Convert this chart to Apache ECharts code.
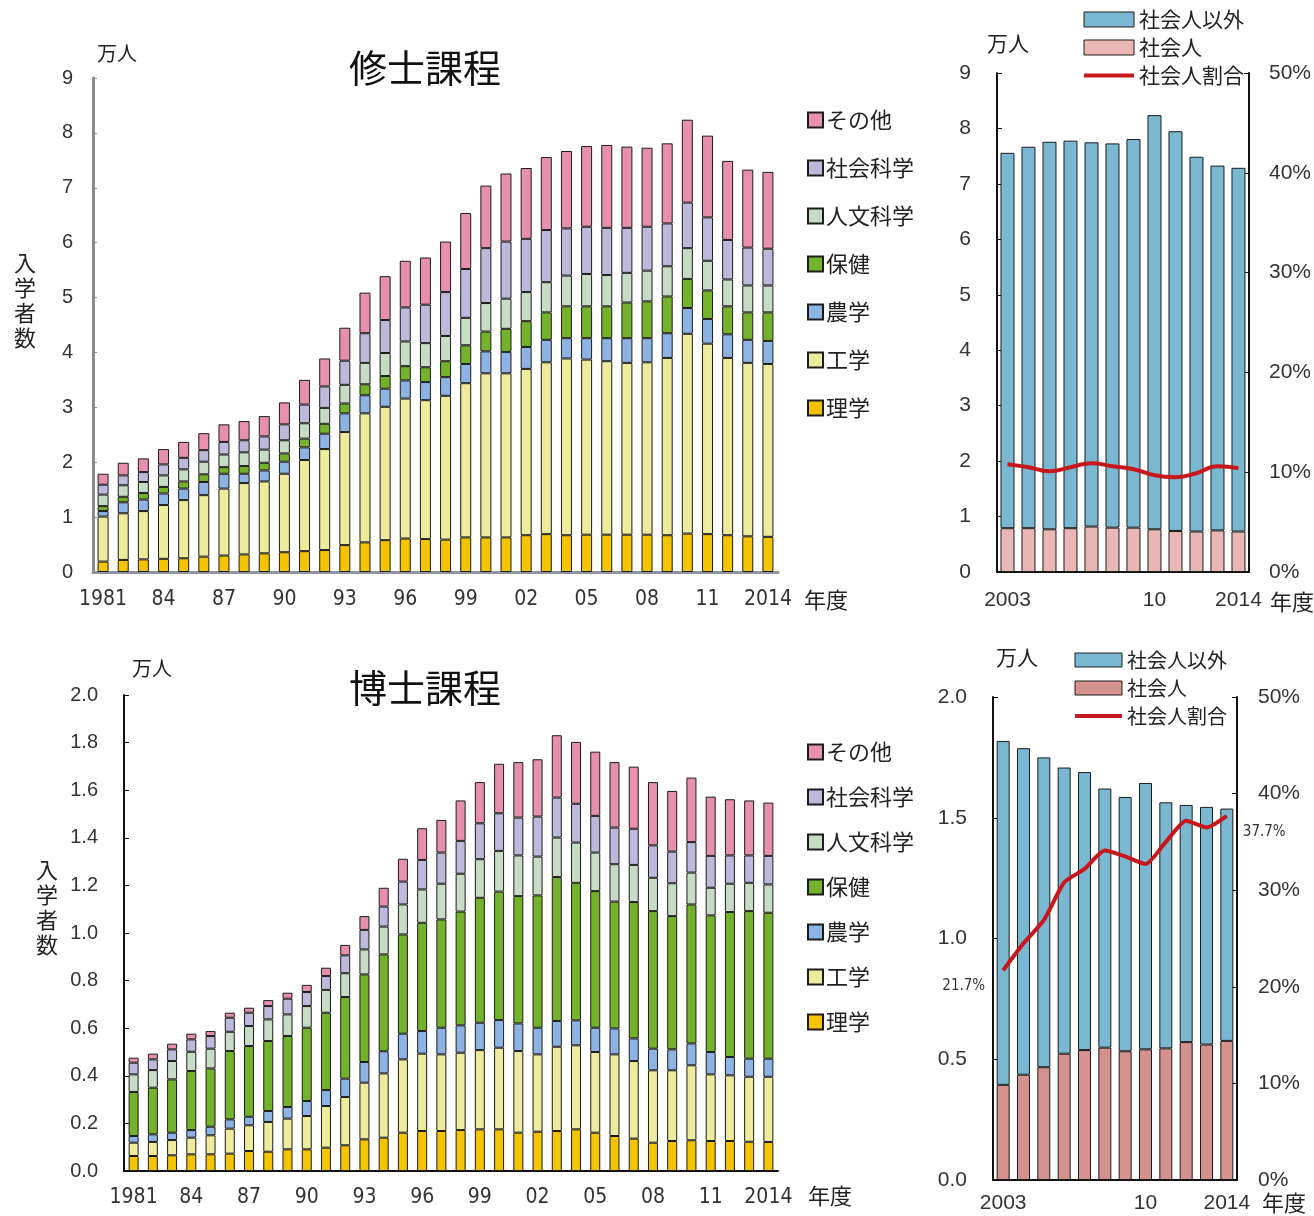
<!DOCTYPE html>
<html>
<head>
<meta charset="utf-8">
<script src="https://cdn.jsdelivr.net/npm/echarts@6/dist/echarts.min.js"></script>
<style>
  html, body { margin: 0; padding: 0; background: #fff; }
  #chart { width: 1314px; height: 1216px; }
</style>
</head>
<body>
<div id="chart"></div>
<script>
// ---- categories ----
const years = ['1981','82','83','84','85','86','87','88','89','90','91','92','93','94','95','96','97','98','99',
  '00','01','02','03','04','05','06','07','08','09','10','11','12','13','2014'];
const recentYears = ['2003','04','05','06','07','08','09','10','11','12','13','2014'];

// ---- 修士課程 入学者数 (万人) by field ----
const mScience = [0.19,0.22,0.23,0.24,0.25,0.28,0.30,0.32,0.34,0.36,0.38,0.40,0.49,0.54,0.58,0.61,0.60,0.59,0.63,0.63,0.63,0.67,0.69,0.67,0.68,0.68,0.68,0.68,0.67,0.70,0.69,0.67,0.65,0.64];
const mEng     = [0.82,0.85,0.88,0.98,1.06,1.12,1.22,1.30,1.31,1.43,1.66,1.84,2.06,2.35,2.43,2.55,2.53,2.62,2.81,2.99,2.99,3.03,3.13,3.22,3.19,3.16,3.13,3.14,3.23,3.64,3.47,3.23,3.16,3.15];
const mAgri    = [0.10,0.20,0.21,0.21,0.21,0.24,0.27,0.17,0.20,0.22,0.23,0.28,0.34,0.33,0.33,0.33,0.33,0.34,0.35,0.40,0.39,0.40,0.41,0.37,0.39,0.42,0.45,0.44,0.45,0.47,0.45,0.43,0.42,0.42];
const mHealth  = [0.09,0.10,0.12,0.12,0.13,0.14,0.12,0.14,0.14,0.15,0.16,0.18,0.18,0.20,0.23,0.26,0.27,0.29,0.34,0.36,0.42,0.47,0.50,0.58,0.58,0.58,0.65,0.67,0.67,0.53,0.52,0.51,0.50,0.52];
const mHum     = [0.21,0.21,0.20,0.21,0.22,0.23,0.23,0.25,0.24,0.24,0.28,0.29,0.34,0.39,0.42,0.45,0.44,0.46,0.50,0.52,0.55,0.53,0.55,0.56,0.59,0.57,0.54,0.56,0.55,0.56,0.54,0.49,0.49,0.49];
const mSoc     = [0.18,0.18,0.18,0.20,0.21,0.21,0.23,0.22,0.24,0.29,0.34,0.39,0.44,0.54,0.60,0.62,0.70,0.80,0.89,1.00,1.04,0.97,0.95,0.86,0.86,0.86,0.82,0.80,0.78,0.83,0.79,0.72,0.69,0.67];
const mOther   = [0.20,0.23,0.25,0.28,0.29,0.31,0.32,0.35,0.37,0.40,0.45,0.51,0.60,0.74,0.80,0.85,0.86,0.92,1.02,1.14,1.24,1.29,1.33,1.41,1.47,1.51,1.48,1.44,1.46,1.51,1.49,1.44,1.42,1.40];

// ---- 博士課程 入学者数 (万人) by field ----
const dScience = [0.063,0.063,0.066,0.070,0.070,0.073,0.084,0.081,0.091,0.091,0.098,0.108,0.133,0.140,0.161,0.168,0.168,0.172,0.175,0.175,0.161,0.165,0.168,0.175,0.161,0.147,0.136,0.119,0.126,0.129,0.126,0.126,0.123,0.122];
const dEng     = [0.056,0.059,0.064,0.070,0.080,0.105,0.108,0.125,0.129,0.140,0.175,0.203,0.238,0.270,0.308,0.325,0.322,0.325,0.333,0.343,0.343,0.325,0.354,0.353,0.339,0.343,0.326,0.304,0.297,0.315,0.280,0.276,0.273,0.274];
const dAgri    = [0.028,0.032,0.031,0.032,0.036,0.039,0.036,0.046,0.049,0.063,0.067,0.077,0.087,0.093,0.108,0.095,0.112,0.115,0.115,0.116,0.116,0.112,0.108,0.105,0.102,0.109,0.095,0.091,0.088,0.092,0.094,0.077,0.076,0.076];
const dHealth  = [0.185,0.196,0.224,0.248,0.245,0.287,0.297,0.294,0.298,0.308,0.325,0.343,0.368,0.407,0.417,0.455,0.455,0.478,0.525,0.540,0.535,0.556,0.605,0.578,0.574,0.533,0.573,0.578,0.560,0.584,0.574,0.609,0.620,0.613];
const dHum     = [0.074,0.074,0.077,0.081,0.083,0.081,0.084,0.091,0.091,0.091,0.096,0.100,0.105,0.117,0.126,0.140,0.150,0.159,0.162,0.171,0.171,0.163,0.166,0.169,0.162,0.157,0.156,0.140,0.138,0.134,0.116,0.119,0.119,0.119];
const dSoc     = [0.049,0.045,0.049,0.052,0.053,0.059,0.056,0.056,0.066,0.059,0.058,0.075,0.082,0.084,0.096,0.124,0.131,0.138,0.151,0.158,0.159,0.168,0.168,0.163,0.154,0.154,0.152,0.136,0.133,0.128,0.134,0.119,0.115,0.120];
const dOther   = [0.021,0.024,0.024,0.024,0.021,0.021,0.021,0.025,0.025,0.030,0.035,0.044,0.058,0.079,0.096,0.133,0.137,0.170,0.173,0.208,0.233,0.241,0.262,0.260,0.270,0.275,0.261,0.266,0.255,0.271,0.249,0.236,0.231,0.224];

// ---- 社会人 / 社会人以外 (万人) and 社会人割合 (%) , 2003-2014 ----
const mWorking    = [0.79,0.79,0.77,0.79,0.82,0.80,0.80,0.77,0.74,0.73,0.75,0.73];
const mNonWorking = [6.77,6.88,6.99,6.99,6.93,6.93,7.01,7.47,7.21,6.76,6.58,6.56];
const mRatio      = [10.8,10.5,10.1,10.5,10.9,10.6,10.3,9.7,9.5,9.9,10.6,10.4];
const dWorking    = [0.394,0.436,0.467,0.523,0.538,0.548,0.533,0.541,0.545,0.571,0.561,0.576];
const dNonWorking = [1.424,1.352,1.283,1.185,1.151,1.073,1.053,1.103,1.019,0.982,0.984,0.962];
const dRatio      = [21.7,24.5,26.9,30.8,32.2,34.1,33.5,32.7,35.0,37.2,36.5,37.7];

// ---- field names (bottom of stack first) and colours ----
const fieldNames  = ['理学','工学','農学','保健','人文科学','社会科学','その他'];
const fieldColors = ['#F5C400','#EDEB9C','#8DB3E2','#74B22C','#C6DCC4','#BDB9DB','#E78FAE'];
const masterData  = [mScience, mEng, mAgri, mHealth, mHum, mSoc, mOther];
const doctorData  = [dScience, dEng, dAgri, dHealth, dHum, dSoc, dOther];

const JP = "'Noto Sans CJK JP', 'Noto Sans', sans-serif";
const NUM = "'Liberation Sans', Arial, sans-serif";
const NARROW = "'Liberation Sans Narrow', 'Arial Narrow', 'DejaVu Sans Condensed', 'Liberation Sans', sans-serif";
const RED = '#C8161D';

const chart = echarts.init(document.getElementById('chart'), null, { renderer: 'canvas' });

function fieldSeries(dataSets, axisIdx, stackName, barWidth) {
  return fieldNames.map((name, i) => ({
    type: 'bar', name, stack: stackName,
    xAxisIndex: axisIdx, yAxisIndex: axisIdx === 0 ? 0 : 3,
    data: dataSets[i], barWidth,
    itemStyle: { color: fieldColors[i], borderColor: '#1c1c1c', borderWidth: 1 },
    emphasis: { disabled: true }
  }));
}

const legendOrder = fieldNames.slice().reverse();

function text(t, x, y, size, family, extra) {
  return {
    type: 'text', x, y, silent: true,
    style: Object.assign({ text: t, fontSize: size, fontFamily: family, fill: '#222', align: 'center', verticalAlign: 'middle' }, extra || {})
  };
}

function workLegend(left, top, w, h, gap, size, workColor) {
  return {
    orient: 'vertical', left, top, itemWidth: w, itemHeight: h, itemGap: gap,
    selectedMode: false,
    data: [
      { name: '社会人以外', icon: 'rect', itemStyle: { color: '#7AB8D1', borderColor: '#1c1c1c', borderWidth: 1 } },
      { name: '社会人', icon: 'rect', itemStyle: { color: workColor, borderColor: '#1c1c1c', borderWidth: 1 } },
      { name: '社会人割合', itemStyle: { opacity: 0 }, lineStyle: { color: RED, width: 4 } }
    ],
    textStyle: { fontSize: size, fontFamily: JP, color: '#222' }
  };
}

const option = {
  animation: false,
  backgroundColor: '#fff',
  grid: [
    { left: 93,  top: 78,  width: 685, height: 494 },
    { left: 997, top: 73,  width: 253, height: 499 },
    { left: 124, top: 695, width: 654, height: 476 },
    { left: 993, top: 697, width: 244, height: 483 }
  ],
  xAxis: [
    { type: 'category', gridIndex: 0, data: years,
      axisLine: { lineStyle: { color: '#8E959E', width: 3 } }, axisTick: { show: false },
      axisLabel: { interval: 2, margin: 17, fontSize: 21, fontFamily: NARROW, color: '#333' } },
    { type: 'category', gridIndex: 1, data: recentYears,
      axisLine: { lineStyle: { color: '#111', width: 2 } }, axisTick: { show: false },
      axisLabel: { interval: (i) => i === 0 || i === 7 || i === 11, margin: 18, fontSize: 21, fontFamily: NUM, color: '#333' } },
    { type: 'category', gridIndex: 2, data: years,
      axisLine: { lineStyle: { color: '#111', width: 2 } }, axisTick: { show: false },
      axisLabel: { interval: 2, margin: 16, fontSize: 21, fontFamily: NARROW, color: '#333' } },
    { type: 'category', gridIndex: 3, data: recentYears,
      axisLine: { lineStyle: { color: '#111', width: 2 } }, axisTick: { show: false },
      axisLabel: { interval: (i) => i === 0 || i === 7 || i === 11, margin: 13, fontSize: 21, fontFamily: NUM, color: '#333' } }
  ],
  yAxis: [
    { type: 'value', gridIndex: 0, min: 0, max: 9, interval: 1,
      axisLine: { show: true, lineStyle: { color: '#8A8A8A', width: 3 } },
      axisTick: { show: true, inside: true, length: 4, lineStyle: { color: '#8A8A8A' } },
      splitLine: { show: false },
      axisLabel: { margin: 20, fontSize: 20, fontFamily: NUM, color: '#333' } },
    { type: 'value', gridIndex: 1, min: 0, max: 9, interval: 1,
      axisLine: { show: true, lineStyle: { color: '#111', width: 2 } },
      axisTick: { show: true, inside: true, length: 5, lineStyle: { color: '#111' } },
      splitLine: { show: false },
      axisLabel: { margin: 26, fontSize: 21, fontFamily: NUM, color: '#333' } },
    { type: 'value', gridIndex: 1, position: 'right', min: 0, max: 50, interval: 10,
      axisLine: { show: true, lineStyle: { color: '#111', width: 2 } },
      axisTick: { show: true, inside: true, length: 5, lineStyle: { color: '#111' } },
      splitLine: { show: false },
      axisLabel: { margin: 20, fontSize: 21, fontFamily: NUM, color: '#333', formatter: '{value}%' } },
    { type: 'value', gridIndex: 2, min: 0, max: 2, interval: 0.2,
      axisLine: { show: true, lineStyle: { color: '#111', width: 2 } },
      axisTick: { show: true, inside: true, length: 5, lineStyle: { color: '#111' } },
      splitLine: { show: false },
      axisLabel: { margin: 26, fontSize: 20, fontFamily: NUM, color: '#333', formatter: (v) => v.toFixed(1) } },
    { type: 'value', gridIndex: 3, min: 0, max: 2, interval: 0.5,
      axisLine: { show: true, lineStyle: { color: '#111', width: 2 } },
      axisTick: { show: true, inside: true, length: 5, lineStyle: { color: '#111' } },
      splitLine: { show: false },
      axisLabel: { margin: 26, fontSize: 21, fontFamily: NUM, color: '#333', formatter: (v) => v.toFixed(1) } },
    { type: 'value', gridIndex: 3, position: 'right', min: 0, max: 50, interval: 10,
      axisLine: { show: true, lineStyle: { color: '#111', width: 2 } },
      axisTick: { show: true, inside: true, length: 5, lineStyle: { color: '#111' } },
      splitLine: { show: false },
      axisLabel: { margin: 21, fontSize: 21, fontFamily: NUM, color: '#333', formatter: '{value}%' } }
  ],
  legend: [
    { orient: 'vertical', left: 802, top: 104, itemWidth: 15, itemHeight: 15, itemGap: 26,
      icon: 'rect', selectedMode: false, data: legendOrder,
      textStyle: { fontSize: 22, fontFamily: JP, color: '#222', padding: [0, 0, 0, -2] } },
    { orient: 'vertical', left: 802, top: 736, itemWidth: 15, itemHeight: 15, itemGap: 23,
      icon: 'rect', selectedMode: false, data: legendOrder,
      textStyle: { fontSize: 22, fontFamily: JP, color: '#222', padding: [0, 0, 0, -2] } },
    workLegend(1077, 4, 50, 15, 7, 21, '#E9B8B4'),
    workLegend(1068, 645, 47, 14, 8, 20, '#D4918D')
  ],
  series: [
    ...fieldSeries(masterData, 0, 'master', 11),
    ...fieldSeries(doctorData, 2, 'doctor', 10),
    { type: 'bar', name: '社会人', stack: 'mw', xAxisIndex: 1, yAxisIndex: 1, data: mWorking, barWidth: 14,
      itemStyle: { color: '#E9B8B4', borderColor: '#1c1c1c', borderWidth: 1 }, emphasis: { disabled: true } },
    { type: 'bar', name: '社会人以外', stack: 'mw', xAxisIndex: 1, yAxisIndex: 1, data: mNonWorking, barWidth: 14,
      itemStyle: { color: '#7AB8D1', borderColor: '#1c1c1c', borderWidth: 1 }, emphasis: { disabled: true } },
    { type: 'line', name: '社会人割合', xAxisIndex: 1, yAxisIndex: 2, data: mRatio, smooth: 0.5,
      symbol: 'none', z: 10, lineStyle: { color: RED, width: 4 }, itemStyle: { color: RED },
      emphasis: { disabled: true } },
    { type: 'bar', name: '社会人', stack: 'dw', xAxisIndex: 3, yAxisIndex: 4, data: dWorking, barWidth: 13,
      itemStyle: { color: '#D4918D', borderColor: '#1c1c1c', borderWidth: 1 }, emphasis: { disabled: true } },
    { type: 'bar', name: '社会人以外', stack: 'dw', xAxisIndex: 3, yAxisIndex: 4, data: dNonWorking, barWidth: 13,
      itemStyle: { color: '#7AB8D1', borderColor: '#1c1c1c', borderWidth: 1 }, emphasis: { disabled: true } },
    { type: 'line', name: '社会人割合', xAxisIndex: 3, yAxisIndex: 5, smooth: 0.2,
      data: dRatio.map((v, i) => {
        if (i === 0) return { value: v, label: { show: true, position: 'left', distance: 18, offset: [0, 16] } };
        if (i === dRatio.length - 1) return { value: v, label: { show: true, position: 'right', distance: 16, offset: [0, 16] } };
        return v;
      }),
      label: { show: false, fontSize: 15, fontFamily: NARROW, color: '#333', formatter: '{c}%' },
      symbol: 'circle', symbolSize: 0, showSymbol: true, z: 10,
      lineStyle: { color: RED, width: 4 }, itemStyle: { color: RED },
      emphasis: { disabled: true } }
  ],
  graphic: [
    text('修士課程', 425, 68, 38, JP, { fill: '#111' }),
    text('博士課程', 425, 688, 38, JP, { fill: '#111' }),
    text('万人', 117, 53, 20, JP),
    text('万人', 152, 668, 20, JP),
    text('万人', 1008, 43, 21, JP),
    text('万人', 1017, 657, 21, JP),
    text('入\n学\n者\n数', 25, 300, 22, JP, { lineHeight: 25 }),
    text('入\n学\n者\n数', 47, 907, 22, JP, { lineHeight: 25 }),
    text('年度', 826, 600, 22, JP),
    text('年度', 830, 1196, 22, JP),
    text('年度', 1292, 602, 22, JP),
    text('年度', 1284, 1203, 22, JP)
  ]
};

chart.setOption(option);
</script>
</body>
</html>
